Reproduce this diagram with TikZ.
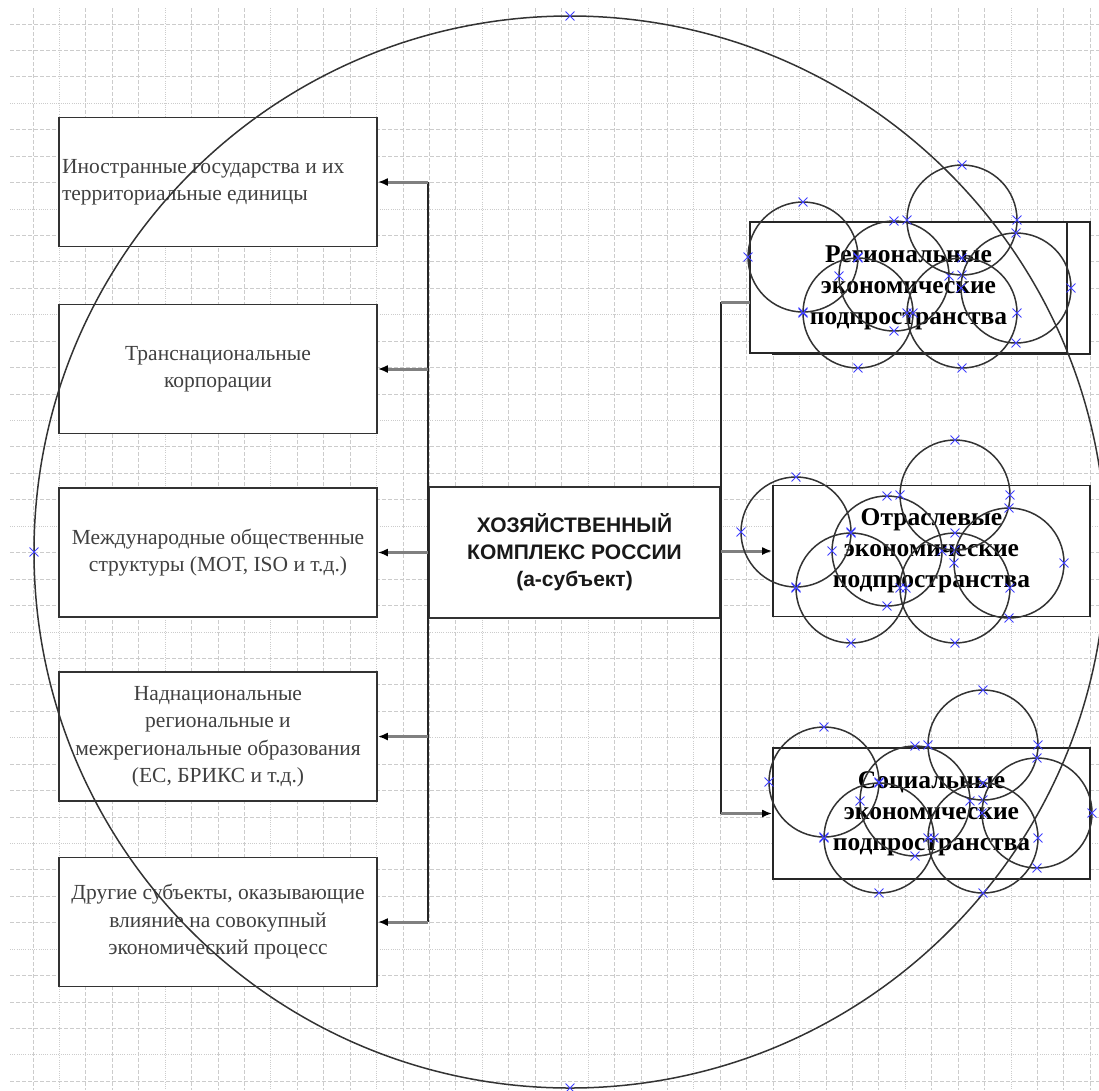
\documentclass[tikz,border=0pt]{standalone}
\usepackage{fontspec}
\setmainfont{Liberation Serif}
\setsansfont{Liberation Sans}
\usetikzlibrary{arrows.meta,shapes.misc}

\tikzset{
  griddash/.style={gray!40,line width=0.8pt,dash pattern=on 3.5pt off 2.5pt},
  griddot/.style={gray!40,line width=0.8pt,dash pattern=on 1pt off 1.2pt},
  lbox/.style={draw=black!80,fill=white,line width=1.7pt,minimum width=318pt,
    minimum height=129pt,inner sep=3pt,align=center,text=black!75,
    font=\fontsize{21.5}{27.5}\selectfont},
  cbox/.style={draw=black!80,fill=white,line width=1.7pt,minimum width=291pt,
    minimum height=131pt,align=center,text=black!90,
    font=\fontsize{21}{27}\selectfont\sffamily\bfseries},
  rbox/.style={draw=black!85,fill=white,line width=1.7pt,minimum width=317pt,
    minimum height=131pt,align=center,
    font=\fontsize{25.5}{31}\selectfont\bfseries},
  trunk/.style={black!85,line width=1.8pt},
  conn/.style={black!50,line width=3pt,-{Latex[length=10pt,width=8pt,black]}},
  ring/.style={black!80,line width=1.5pt},
  xm/.style={cross out,draw=blue!75,line width=0.9pt,minimum size=8pt,inner sep=0pt}
}

\begin{document}
\begin{tikzpicture}[x=1pt,y=-1pt]
\useasboundingbox (0,0) rectangle (1099,1090);

%% Grid paper
\foreach \i in {0,...,40}{
  \pgfmathtruncatemacro\m{mod(\i,4)}
  \ifnum\m=1 \def\gs{griddot}\else\def\gs{griddash}\fi
  \draw[\gs] ({33+26.43*\i},8) -- ({33+26.43*\i},1090);
  \ifnum\m=3 \def\gs{griddot}\else\def\gs{griddash}\fi
  \draw[\gs] (10,{24+26.43*\i}) -- (1099,{24+26.43*\i});
}

%% Left column
\node[lbox,text width=312pt,align=flush left] (inostr) at (218,182)
  {Иностранные государства и их\\территориальные единицы};
\node[lbox] (tnk) at (218,369) {Транснациональные\\корпорации};
\node[lbox] (mezhd) at (218,552.5)
  {Международные общественные\\структуры (МОТ, ISO и т.д.)};
\node[lbox] (nadnac) at (218,736.5)
  {Наднациональные\\региональные и\\межрегиональные образования\\(ЕС, БРИКС и т.д.)};
\node[lbox] (drugie) at (218,922)
  {Другие субъекты, оказывающие\\влияние на совокупный\\экономический процесс};

%% Centre
\node[cbox] (kompleks) at (574.5,552.5)
  {ХОЗЯЙСТВЕННЫЙ\\КОМПЛЕКС РОССИИ\\(а-субъект)};

%% Right column
\draw[draw=black!85,fill=white,line width=1.7pt] (773,222) rectangle (1090,354);
\node[rbox] (region) at (908.5,287.5) {Региональные\\экономические\\подпространства};
\node[rbox] (otrasl) at (931.5,551) {Отраслевые\\экономические\\подпространства};
\node[rbox] (social) at (931.5,813.5) {Социальные\\экономические\\подпространства};
\coordinate (regin) at (750,302);

%% Connectors
\draw[trunk] (kompleks.west |- inostr.east) -- (kompleks.west |- drugie.east);
\foreach \n in {inostr,tnk,mezhd,nadnac,drugie}
  \draw[conn] (kompleks.west |- \n.east) -- (\n.east);
\draw[trunk] (kompleks.east |- regin) -- (kompleks.east |- social.west);
\draw[black!50,line width=3pt] (kompleks.east |- regin) -- (regin);
\draw[conn] (kompleks.east |- otrasl.west) -- (otrasl.west);
\draw[conn] (kompleks.east |- social.west) -- (social.west);

%% Big circle
\draw[ring] (570,552) circle [radius=536];
\foreach \a in {0,90,180,270}
  \node[xm] at ({570+536*cos(\a)},{552+536*sin(\a)}) {};

%% Subspace circles
\foreach \ax/\ay in {803/257,796/532,824/782}{
  \foreach \dx/\dy in {0/0,91/19,159/-37,55/56,159/56,213/31}{
    \draw[ring] ({\ax+\dx},{\ay+\dy}) circle [radius=55];
    \foreach \a in {0,90,180,270}
      \node[xm] at ({\ax+\dx+55*cos(\a)},{\ay+\dy+55*sin(\a)}) {};
  }
}
\end{tikzpicture}
\end{document}
